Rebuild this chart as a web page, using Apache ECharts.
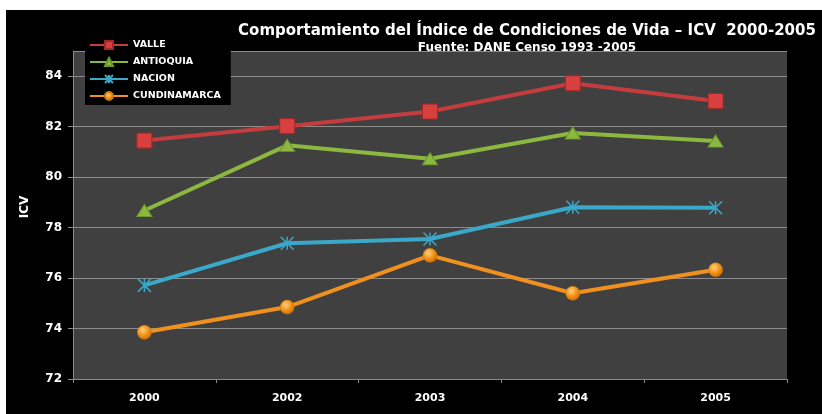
<!DOCTYPE html>
<html>
<head>
<meta charset="utf-8">
<script src="https://cdn.jsdelivr.net/npm/echarts@6/dist/echarts.min.js"></script>
<style>
html,body{margin:0;padding:0;background:#fff;width:822px;height:414px;overflow:hidden;}
#c{position:absolute;left:6px;top:10px;width:816px;height:404px;background:#000;}
</style>
</head>
<body>
<div id="c"></div>
<script>
var years = ['2000', '2002', '2003', '2004', '2005'];
var valle = [81.45, 82.02, 82.6, 83.72, 83.02];
var antioquia = [78.68, 81.26, 80.73, 81.75, 81.43];
var nacion = [75.71, 77.38, 77.55, 78.81, 78.79];
var cundinamarca = [73.85, 74.85, 76.9, 75.4, 76.33];
var titleText = 'Comportamiento del Índice de Condiciones de Vida – ICV  2000-2005';
var subText = 'Fuente: DANE Censo 1993 -2005';
var yName = 'ICV';

var chart = echarts.init(document.getElementById('c'), null, {renderer: 'canvas'});
var orangeBall = {
  type: 'radial', x: 0.4, y: 0.35, r: 0.7,
  colorStops: [{offset: 0, color: '#ffd080'}, {offset: 0.5, color: '#f5961e'}, {offset: 1, color: '#c86a00'}]
};
var option = {
  animation: false,
  backgroundColor: '#000',
  title: [
    {text: titleText, left: 521, top: 14, textAlign: 'center', padding: 0,
     textStyle: {color: '#fff', fontFamily: 'DejaVu Sans', fontWeight: 'bold', fontSize: 15}},
    {text: subText, left: 521, top: 32, textAlign: 'center', padding: 0,
     textStyle: {color: '#fff', fontFamily: 'DejaVu Sans', fontWeight: 'bold', fontSize: 12}}
  ],
  legend: {
    orient: 'vertical', left: 79, top: 26, padding: [4, 10, 4, 4],
    backgroundColor: '#000', itemWidth: 38, itemHeight: 10, itemGap: 7,
    data: ['VALLE', 'ANTIOQUIA', 'NACION', 'CUNDINAMARCA'],
    textStyle: {color: '#fff', fontFamily: 'DejaVu Sans', fontWeight: 'bold', fontSize: 9.5}
  },
  graphic: [{
    type: 'text', x: 19, y: 197, rotation: Math.PI / 2, z: 10,
    style: {text: yName, fill: '#fff', font: 'bold 12px "DejaVu Sans"', textAlign: 'center', textVerticalAlign: 'middle'}
  }],
  grid: {left: 67, top: 41, right: 35, bottom: 35, show: true, backgroundColor: '#404040', borderWidth: 0},
  xAxis: {
    type: 'category', data: years, boundaryGap: true,
    axisLine: {lineStyle: {color: '#8a8a8a', width: 1}},
    axisTick: {show: true, length: 4, lineStyle: {color: '#8a8a8a'}},
    axisLabel: {color: '#fff', fontFamily: 'DejaVu Sans', fontWeight: 'bold', fontSize: 11, margin: 14}
  },
  yAxis: {
    type: 'value', min: 72, max: 85, interval: 2,
    axisLine: {show: true, lineStyle: {color: '#8a8a8a', width: 1}},
    axisTick: {show: true, length: 5, lineStyle: {color: '#8a8a8a'}},
    axisLabel: {color: '#fff', fontFamily: 'DejaVu Sans', fontWeight: 'bold', fontSize: 12, margin: 11,
      showMaxLabel: false},
    splitLine: {lineStyle: {color: '#8c8c8c', width: 1}}
  },
  series: [
    {name: 'VALLE', type: 'line', data: valle, symbol: 'rect', symbolSize: 15,
     lineStyle: {color: '#c43c3d', width: 4},
     itemStyle: {color: '#d8403f', borderColor: '#a02828', borderWidth: 1}},
    {name: 'ANTIOQUIA', type: 'line', data: antioquia, symbol: 'triangle', symbolSize: [15, 12],
     lineStyle: {color: '#8cb83f', width: 4},
     itemStyle: {color: '#8cb83f', borderColor: '#6c9a2a', borderWidth: 1}},
    {name: 'NACION', type: 'line', data: nacion, symbol: 'path://M0,0L10,10M10,0L0,10M5,0L5,10', symbolSize: 13,
     lineStyle: {color: '#3aa8c8', width: 4},
     itemStyle: {color: '#3aa8c8', borderColor: '#3aa8c8', borderWidth: 1.5}},
    {name: 'CUNDINAMARCA', type: 'line', data: cundinamarca, symbol: 'circle', symbolSize: 14,
     lineStyle: {color: '#f0901f', width: 4},
     itemStyle: {color: orangeBall, borderColor: '#d07a10', borderWidth: 0.5}}
  ]
};
chart.setOption(option);
</script>
</body>
</html>
